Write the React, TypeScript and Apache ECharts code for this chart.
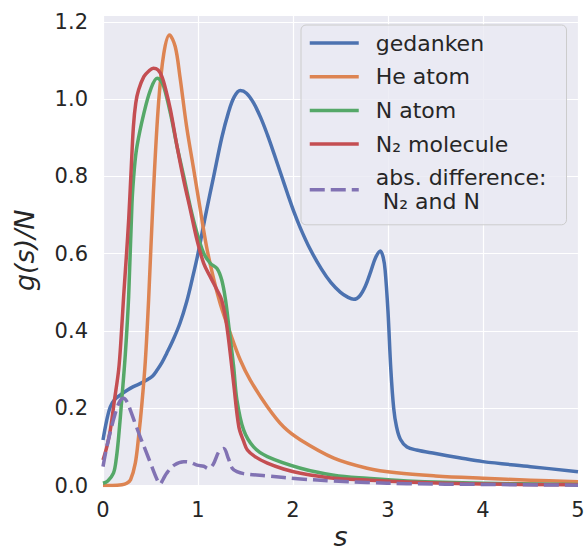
import React, { useEffect, useRef } from "react";
import * as echarts from "echarts";

// ---- data ----
const xTicks = [0, 1, 2, 3, 4, 5];
const yTicks = [0, 0.2, 0.4, 0.6, 0.8, 1.0, 1.2];

const sGedanken = [0, 0.04, 0.077, 0.12, 0.18, 0.25, 0.32, 0.4, 0.46, 0.52, 0.57, 0.62, 0.67, 0.74, 0.81, 0.88, 0.94, 1.0, 1.08, 1.165, 1.25, 1.32, 1.38, 1.445, 1.51, 1.585, 1.66, 1.73, 1.8, 1.87, 1.94, 2.01, 2.08, 2.18, 2.3, 2.4, 2.5, 2.58, 2.64, 2.7, 2.76, 2.82, 2.87, 2.92, 2.95, 2.97, 3.0, 3.03, 3.06, 3.09, 3.13, 3.2, 3.3, 3.5, 3.75, 4.0, 4.5, 5.0];
const gGedanken = [0.118, 0.17, 0.204, 0.222, 0.234, 0.246, 0.256, 0.265, 0.273, 0.283, 0.299, 0.318, 0.342, 0.378, 0.42, 0.475, 0.535, 0.6, 0.7, 0.8, 0.9, 0.965, 1.005, 1.022, 1.015, 0.99, 0.952, 0.908, 0.859, 0.808, 0.757, 0.708, 0.665, 0.612, 0.56, 0.525, 0.5, 0.487, 0.482, 0.49, 0.515, 0.555, 0.59, 0.607, 0.59, 0.557, 0.45, 0.3, 0.2, 0.152, 0.12, 0.1, 0.092, 0.083, 0.072, 0.062, 0.049, 0.036];

const sHe = [0, 0.1, 0.2, 0.25, 0.29, 0.34, 0.375, 0.41, 0.445, 0.48, 0.53, 0.585, 0.64, 0.7, 0.76, 0.81, 0.88, 0.95, 1.02, 1.09, 1.16, 1.235, 1.34, 1.445, 1.55, 1.73, 1.9, 2.08, 2.43, 2.78, 3.09, 3.5, 4.0, 4.5, 5.0];
const gHe = [0, 0, 0.002, 0.006, 0.015, 0.058, 0.127, 0.213, 0.32, 0.48, 0.756, 0.99, 1.118, 1.166, 1.136, 1.058, 0.929, 0.825, 0.72, 0.618, 0.54, 0.47, 0.394, 0.325, 0.273, 0.204, 0.152, 0.118, 0.071, 0.045, 0.033, 0.025, 0.019, 0.014, 0.01];

const sN = [0, 0.05, 0.11, 0.14, 0.165, 0.2, 0.235, 0.27, 0.305, 0.33, 0.357, 0.43, 0.5, 0.57, 0.6, 0.64, 0.71, 0.78, 0.85, 0.92, 0.99, 1.06, 1.13, 1.2, 1.25, 1.29, 1.33, 1.375, 1.41, 1.48, 1.585, 1.73, 2.08, 2.43, 2.78, 3.2, 4.0, 5.0];
const gN = [0.006, 0.012, 0.032, 0.07, 0.127, 0.23, 0.34, 0.489, 0.73, 0.82, 0.877, 0.963, 1.024, 1.054, 1.05, 1.032, 0.963, 0.877, 0.8, 0.72, 0.653, 0.601, 0.575, 0.562, 0.532, 0.48, 0.4, 0.308, 0.221, 0.144, 0.1, 0.075, 0.045, 0.027, 0.019, 0.012, 0.006, 0.003];

const sN2 = [0, 0.04, 0.077, 0.12, 0.165, 0.19, 0.217, 0.245, 0.27, 0.295, 0.32, 0.345, 0.375, 0.43, 0.48, 0.53, 0.58, 0.62, 0.66, 0.71, 0.78, 0.85, 0.92, 0.99, 1.06, 1.13, 1.2, 1.25, 1.305, 1.375, 1.43, 1.48, 1.52, 1.6, 1.73, 1.9, 2.08, 2.43, 2.78, 3.2, 4.0, 5.0];
const gN2 = [0.066, 0.1, 0.144, 0.22, 0.3, 0.38, 0.489, 0.59, 0.687, 0.81, 0.929, 0.99, 1.024, 1.058, 1.072, 1.08, 1.075, 1.058, 1.025, 0.972, 0.877, 0.79, 0.713, 0.635, 0.575, 0.54, 0.506, 0.48, 0.41, 0.265, 0.152, 0.115, 0.092, 0.075, 0.058, 0.043, 0.032, 0.019, 0.0145, 0.009, 0.004, 0.002];

const sDiff = [0, 0.04, 0.11, 0.17, 0.217, 0.25, 0.287, 0.34, 0.39, 0.45, 0.5, 0.57, 0.6, 0.63, 0.67, 0.75, 0.85, 0.92, 0.99, 1.06, 1.11, 1.16, 1.22, 1.27, 1.32, 1.36, 1.41, 1.48, 1.73, 2.08, 2.43, 2.78, 3.2, 4.0, 5.0];
const gDiff = [0.049, 0.1, 0.17, 0.215, 0.226, 0.218, 0.196, 0.16, 0.127, 0.09, 0.058, 0.015, 0.004, 0.015, 0.032, 0.053, 0.062, 0.06, 0.053, 0.05, 0.044, 0.055, 0.088, 0.096, 0.07, 0.045, 0.036, 0.031, 0.025, 0.017, 0.012, 0.008, 0.005, 0.003, 0.001];

const seriesNames = ["gedanken", "He atom", "N atom", "N\u2082 molecule", "abs. difference:\n N\u2082 and N"];
const seriesColors = ["#4C72B0", "#DD8452", "#55A868", "#C44E52", "#8172B3"];

const FONT = "DejaVu Sans";
const TEXT = "#262626";
const Y_MAX = 1.2176;

const zip = (xs: number[], ys: number[]) => xs.map((x, i) => [x, ys[i]]);

export default function App() {
  const ref = useRef<HTMLDivElement>(null);

  useEffect(() => {
    if (!ref.current) return;
    const chart = echarts.init(ref.current, undefined, { renderer: "svg" });
    const datasets = [
      zip(sGedanken, gGedanken),
      zip(sHe, gHe),
      zip(sN, gN),
      zip(sN2, gN2),
      zip(sDiff, gDiff),
    ];
    const series = datasets.map((d, i) => ({
      type: "line",
      name: seriesNames[i],
      data: d,
      smooth: 0.35,
      symbol: "none",
      showSymbol: false,
      clip: true,
      color: seriesColors[i],
      lineStyle: {
        color: seriesColors[i],
        width: 3.5,
        type: i === 4 ? [15, 6] : "solid",
        cap: "butt",
        join: "round",
      },
    }));

    chart.setOption({
      animation: false,
      backgroundColor: "#ffffff",
      textStyle: { fontFamily: FONT },
      grid: {
        left: 103,
        top: 15,
        width: 475,
        height: 470.6,
        show: true,
        backgroundColor: "#EAEAF2",
        borderWidth: 0,
        containLabel: false,
        outerBoundsMode: "none",
      },
      xAxis: {
        type: "value",
        min: xTicks[0],
        max: xTicks[xTicks.length - 1],
        interval: 1,
        name: "s",
        nameLocation: "middle",
        nameGap: 40,
        nameMoveOverlap: false,
        nameTextStyle: { fontSize: 27, lineHeight: 22, fontStyle: "italic", color: TEXT, fontFamily: FONT },
        axisLine: { show: false },
        axisTick: { show: false },
        axisLabel: { fontSize: 21, color: TEXT, margin: 14, fontFamily: FONT },
        splitLine: { show: true, lineStyle: { color: "#ffffff", width: 1.2 } },
      },
      yAxis: {
        type: "value",
        min: yTicks[0],
        max: Y_MAX,
        interval: 0.2,
        name: "g(s)/N",
        nameLocation: "middle",
        nameRotate: 90,
        nameGap: 65,
        nameMoveOverlap: false,
        nameTextStyle: { fontSize: 27, fontStyle: "italic", color: TEXT, fontFamily: FONT },
        axisLine: { show: false },
        axisTick: { show: false },
        axisLabel: {
          fontSize: 21,
          color: TEXT,
          margin: 15,
          fontFamily: FONT,
          showMaxLabel: false,
          formatter: (v: number) => (yTicks.some((t) => Math.abs(t - v) < 1e-6) ? v.toFixed(1) : ""),
        },
        splitLine: { show: true, lineStyle: { color: "#ffffff", width: 1.2 } },
      },
      legend: {
        show: true,
        orient: "vertical",
        left: 301,
        top: 25,
        padding: [6, 20, 11, 7],
        itemWidth: 49,
        itemHeight: 14,
        itemGap: 9.7,
        backgroundColor: "rgba(234,234,242,0.8)",
        borderColor: "#cccccc",
        borderWidth: 1,
        borderRadius: 5,
        data: seriesNames,
        itemStyle: { color: "rgba(0,0,0,0)", borderColor: "rgba(0,0,0,0)", borderWidth: 0, opacity: 0 },
        lineStyle: { width: 3.5 },
        textStyle: {
          fontSize: 22,
          lineHeight: 24,
          color: TEXT,
          fontFamily: FONT,
          padding: [0, 0, 0, 12],
        },
      },
      series,
    });
    return () => chart.dispose();
  }, []);

  return (
    <div
      ref={ref}
      style={{ position: "absolute", left: 0, top: 0, width: 587, height: 548 }}
    />
  );
}
